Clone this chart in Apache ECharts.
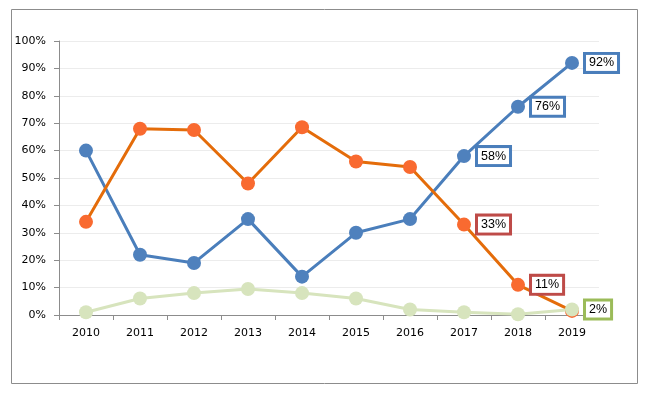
<!DOCTYPE html>
<html>
<head>
<meta charset="utf-8">
<script src="https://cdn.jsdelivr.net/npm/echarts@6/dist/echarts.min.js"></script>
<style>html,body{margin:0;padding:0;background:#fff}#c{width:646px;height:394px}</style>
</head>
<body>
<div id="c"></div>
<script>
var years = ['2010','2011','2012','2013','2014','2015','2016','2017','2018','2019'];
var blueValues = [60, 22, 19, 35, 14, 30, 35, 58, 76, 92];
var orangeValues = [34, 68, 67.5, 48, 68.5, 56, 54, 33, 11, 1.5];
var greenValues = [1, 6, 8, 9.5, 8, 6, 2, 1, 0.3, 2];
var blueLabelIdx = [7, 8, 9];
var orangeLabelIdx = [7, 8];
var greenLabelIdx = [9];

function withLabels(vals, idx, border) {
  return vals.map(function (v, i) {
    if (idx.indexOf(i) < 0) return v;
    return {
      value: v,
      label: {
        show: true, position: 'right', distance: 7,
        formatter: function (p) { return Math.round(p.value) + '%'; },
        color: '#000', fontFamily: 'Liberation Sans', fontSize: 12.5,
        backgroundColor: '#fff', borderColor: border, borderWidth: 3,
        padding: [2, 3, 1, 3]
      }
    };
  });
}

var chart = echarts.init(document.getElementById('c'));
chart.setOption({
  animation: false,
  graphic: [{
    type: 'rect', shape: { x: 11.5, y: 9.5, width: 626, height: 374 },
    style: { fill: 'none', stroke: '#8c8c8c', lineWidth: 1 }, silent: true
  }],
  grid: { left: 59, right: 47, top: 41, bottom: 79 },
  xAxis: {
    type: 'category', data: years, boundaryGap: true,
    axisLine: { lineStyle: { color: '#8c8c8c', width: 1 } },
    axisTick: { show: true, length: 5, lineStyle: { color: '#8c8c8c' } },
    axisLabel: { color: '#000', fontFamily: 'DejaVu Sans', fontSize: 11, margin: 13 }
  },
  yAxis: {
    type: 'value', min: 0, max: 100, interval: 10,
    axisLine: { show: true, lineStyle: { color: '#8c8c8c', width: 1 } },
    axisTick: { show: true, length: 5, lineStyle: { color: '#8c8c8c' } },
    axisLabel: { color: '#000', fontFamily: 'DejaVu Sans', fontSize: 11, formatter: '{value}%', margin: 13 },
    splitLine: { lineStyle: { color: '#ececec', width: 1 } }
  },
  series: [
    {
      type: 'line', data: withLabels(blueValues, blueLabelIdx, '#4a7ebb'),
      symbol: 'circle', symbolSize: 14,
      lineStyle: { color: '#4a7ebb', width: 3 },
      itemStyle: { color: '#4f81bd' }
    },
    {
      type: 'line', data: withLabels(orangeValues, orangeLabelIdx, '#be4b48'),
      symbol: 'circle', symbolSize: 14,
      lineStyle: { color: '#e46c0a', width: 3 },
      itemStyle: { color: '#f96a30' }
    },
    {
      type: 'line', data: withLabels(greenValues, greenLabelIdx, '#9bbb59'),
      symbol: 'circle', symbolSize: 14,
      lineStyle: { color: '#d7e4bd', width: 3 },
      itemStyle: { color: '#d7e4bd' }
    }
  ]
});
</script>
</body>
</html>
